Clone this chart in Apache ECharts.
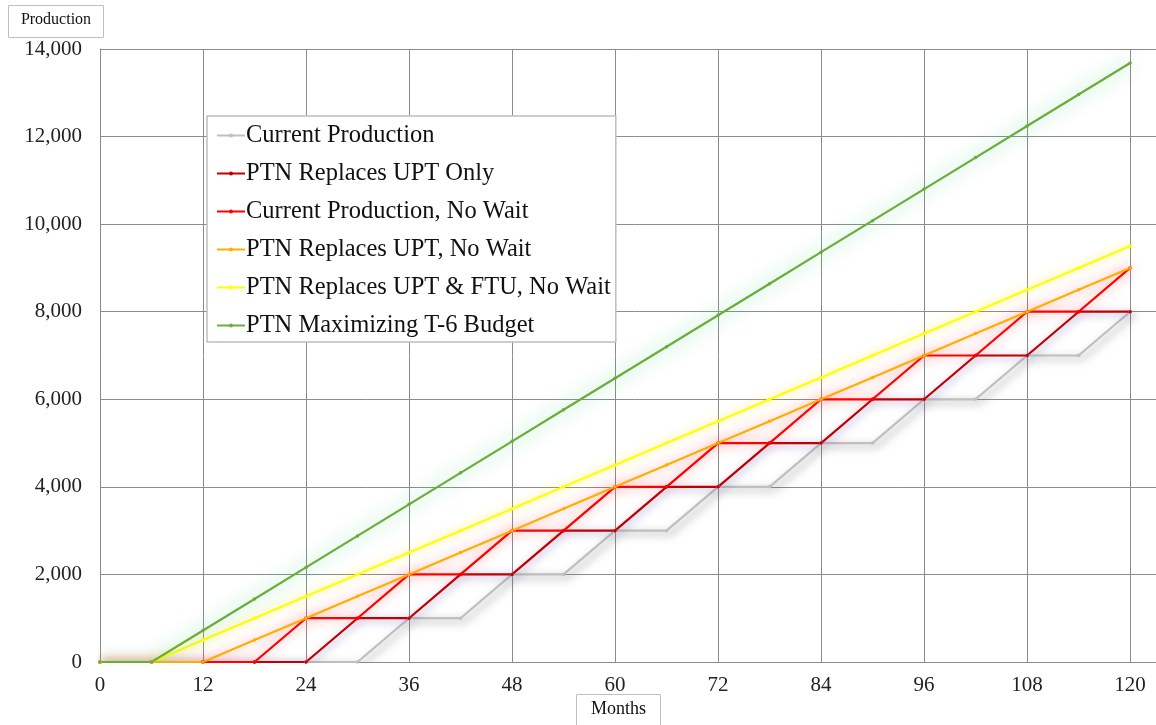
<!DOCTYPE html>
<html>
<head>
<meta charset="utf-8">
<script src="https://cdn.jsdelivr.net/npm/echarts@6/dist/echarts.min.js"></script>
<style>html,body{margin:0;padding:0;background:#fff;overflow:hidden;}#c{width:1172px;height:725px;}</style>
</head>
<body>
<div id="c"></div>
<script>
const months = [0,6,12,18,24,30,36,42,48,54,60,66,72,78,84,90,96,102,108,114,120];
const currentProduction = [0,0,0,0,0,0,1000,1000,2000,2000,3000,3000,4000,4000,5000,5000,6000,6000,7000,7000,8000];
const ptnReplacesUptOnly = [0,0,0,0,0,1000,1000,2000,2000,3000,3000,4000,4000,5000,5000,6000,6000,7000,7000,8000,8000];
const currentProductionNoWait = [0,0,0,0,1000,1000,2000,2000,3000,3000,4000,4000,5000,5000,6000,6000,7000,7000,8000,8000,9000];
const ptnReplacesUptNoWait = [0,0,0,500,1000,1500,2000,2500,3000,3500,4000,4500,5000,5500,6000,6500,7000,7500,8000,8500,9000];
const ptnReplacesUptFtuNoWait = [0,0,500,1000,1500,2000,2500,3000,3500,4000,4500,5000,5500,6000,6500,7000,7500,8000,8500,9000,9500];
const ptnMaximizingT6 = [0,0,720,1440,2160,2880,3600,4320,5040,5760,6480,7200,7920,8640,9360,10080,10800,11520,12240,12960,13680];
const yTicks = [0,2000,4000,6000,8000,10000,12000,14000];
const xTicks = [0,12,24,36,48,60,72,84,96,108,120];

const seriesDefs = [
  {name:'Current Production', data: currentProduction, color:'#BFBFBF', shadow:'rgba(110,110,110,0.75)', ox:4, oy:3, blur:8},
  {name:'PTN Replaces UPT Only', data: ptnReplacesUptOnly, color:'#C00000', shadow:'rgba(80,70,170,0.6)', ox:2, oy:2, blur:9},
  {name:'Current Production, No Wait', data: currentProductionNoWait, color:'#FF0000', shadow:'rgba(255,30,30,0.55)', ox:0, oy:0, blur:12},
  {name:'PTN Replaces UPT, No Wait', data: ptnReplacesUptNoWait, color:'#FFAE00', shadow:'rgba(255,60,60,0.55)', ox:0, oy:0, blur:12},
  {name:'PTN Replaces UPT & FTU, No Wait', data: ptnReplacesUptFtuNoWait, color:'#FFFF00', shadow:'rgba(255,220,0,0.7)', ox:0, oy:0, blur:10},
  {name:'PTN Maximizing T-6 Budget', data: ptnMaximizingT6, color:'#6AAD3D', shadow:'rgba(60,210,110,0.85)', ox:0, oy:0, blur:18}
];

const fmt = v => String(v).replace(/\B(?=(\d{3})+(?!\d))/g, ',');
const serif = '"Liberation Serif", "Times New Roman", serif';
const chartWidth = 1172, plotLeft = 100, plotRightPx = 1133;

const chart = echarts.init(document.getElementById('c'));
chart.setOption({
  animation: false,
  backgroundColor: '#fff',
  grid: {left: plotLeft, right: 0, top: 49, bottom: 63, containLabel: false},
  xAxis: {
    type: 'value', min: 0, max: 120 * (chartWidth - plotLeft) / (plotRightPx - plotLeft), interval: 12,
    axisLine: {show: true, lineStyle: {color: '#8c8c8c', width: 1}},
    axisTick: {show: false},
    splitLine: {show: true, lineStyle: {color: '#8c8c8c', width: 1}},
    axisLabel: {
      fontFamily: serif, fontSize: 21, color: '#222', margin: 13,
      formatter: v => (xTicks.indexOf(v) >= 0 ? String(v) : '')
    }
  },
  yAxis: {
    type: 'value', min: 0, max: 14000, interval: 2000,
    axisLine: {show: true, lineStyle: {color: '#8c8c8c', width: 1}},
    axisTick: {show: false},
    splitLine: {show: true, lineStyle: {color: '#8c8c8c', width: 1}},
    axisLabel: {
      fontFamily: serif, fontSize: 21, color: '#222', margin: 18,
      formatter: v => (yTicks.indexOf(v) >= 0 ? fmt(v) : '')
    }
  },
  legend: {
    orient: 'vertical', left: 207, top: 116,
    padding: [7, 5, 4, 9],
    itemWidth: 28, itemHeight: 5, itemGap: 13,
    backgroundColor: '#fff', borderColor: '#bfbfbf', borderWidth: 1.5,
    textStyle: {fontFamily: serif, fontSize: 24.5, color: '#111', padding: [0,0,0,-4]},
    data: seriesDefs.map(s => s.name)
  },
  graphic: [
    {type: 'group', left: 8, top: 5, children: [
      {type: 'rect', shape: {x: 0, y: 0, width: 95, height: 32}, style: {fill: '#fff', stroke: '#bfbfbf', lineWidth: 1}},
      {type: 'text', style: {text: 'Production', x: 47.5, y: 14, textAlign: 'center', textVerticalAlign: 'middle', font: '16px ' + serif, fill: '#111'}}
    ]},
    {type: 'group', left: 576, top: 694, children: [
      {type: 'rect', shape: {x: 0, y: 0, width: 84, height: 34}, style: {fill: '#fff', stroke: '#bfbfbf', lineWidth: 1}},
      {type: 'text', style: {text: 'Months', x: 42, y: 15, textAlign: 'center', textVerticalAlign: 'middle', font: '18px ' + serif, fill: '#111'}}
    ]}
  ],
  series: seriesDefs.map(s => ({
    name: s.name,
    type: 'line',
    data: months.map((m, i) => [m, s.data[i]]),
    symbol: 'circle', symbolSize: 3.5,
    showSymbol: true,
    itemStyle: {color: s.color},
    lineStyle: {color: s.color, width: 2.2, shadowColor: s.shadow, shadowBlur: s.blur, shadowOffsetX: s.ox, shadowOffsetY: s.oy},
    emphasis: {disabled: true}
  }))
});
</script>
</body>
</html>
